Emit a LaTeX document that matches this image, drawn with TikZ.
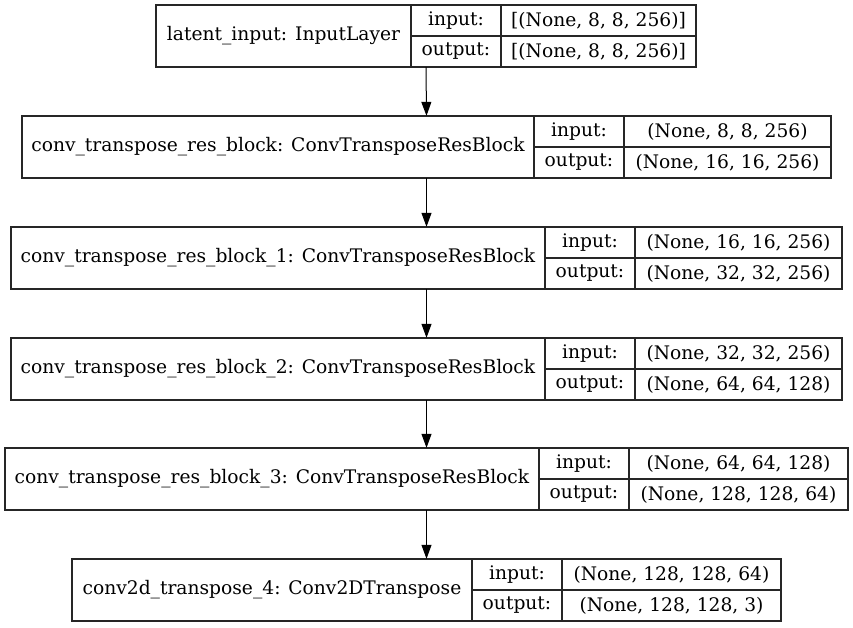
\documentclass[tikz,border=0pt]{standalone}
\usepackage{fontspec}
\setmainfont{DejaVu Serif}
\usetikzlibrary{arrows.meta}
\tikzset{
  cell/.style={draw=black!85,line width=1.1pt,inner sep=0pt,font=\fontsize{18.67}{22}\selectfont},
  whole/.style={inner sep=0pt},
  arr/.style={line width=1pt,black,-{Triangle[length=14pt,width=10pt]}}
}
% #1 name, #2 x1, #3 xa, #4 xb, #5 x2, #6 ytop, #7 label, #8 in, #9 out
\newcommand\klayer[9]{%
  \node[cell,minimum width={(#3-#2)*1pt},minimum height=62pt] (#1-l) at ({(#2+#3)/2},{#6+31}) {#7};
  \node[cell,minimum width={(#4-#3)*1pt},minimum height=31pt] (#1-ik) at ({(#3+#4)/2},{#6+15.5}) {input:};
  \node[cell,minimum width={(#4-#3)*1pt},minimum height=31pt] (#1-ok) at ({(#3+#4)/2},{#6+46.5}) {output:};
  \node[cell,minimum width={(#5-#4)*1pt},minimum height=31pt] (#1-iv) at ({(#4+#5)/2},{#6+15.5}) {#8};
  \node[cell,minimum width={(#5-#4)*1pt},minimum height=31pt] (#1-ov) at ({(#4+#5)/2},{#6+46.5}) {#9};
  \node[whole,minimum width={(#5-#2)*1pt},minimum height=62pt] (#1) at ({(#2+#5)/2},{#6+31}) {};
}
\begin{document}
\begin{tikzpicture}[x=1pt,y=-1pt]
\useasboundingbox[fill=white] (0,0) rectangle (853,627);
\klayer{L1}{156}{411}{501}{696}{5}{latent\_input: InputLayer}{[(None, 8, 8, 256)]}{[(None, 8, 8, 256)]}
\klayer{L2}{22}{534}{624}{831}{116}{conv\_transpose\_res\_block: ConvTransposeResBlock}{(None, 8, 8, 256)}{(None, 16, 16, 256)}
\klayer{L3}{11}{545}{635}{842}{227}{conv\_transpose\_res\_block\_1: ConvTransposeResBlock}{(None, 16, 16, 256)}{(None, 32, 32, 256)}
\klayer{L4}{11}{545}{635}{842}{338}{conv\_transpose\_res\_block\_2: ConvTransposeResBlock}{(None, 32, 32, 256)}{(None, 64, 64, 128)}
\klayer{L5}{5}{539}{629}{848}{448}{conv\_transpose\_res\_block\_3: ConvTransposeResBlock}{(None, 64, 64, 128)}{(None, 128, 128, 64)}
\klayer{L6}{72}{472}{562}{781}{559}{conv2d\_transpose\_4: Conv2DTranspose}{(None, 128, 128, 64)}{(None, 128, 128, 3)}
\draw[arr] (L1.south) -- (L2.north);
\draw[arr] (L2.south) -- (L3.north);
\draw[arr] (L3.south) -- (L4.north);
\draw[arr] (L4.south) -- (L5.north);
\draw[arr] (L5.south) -- (L6.north);
\end{tikzpicture}
\end{document}
